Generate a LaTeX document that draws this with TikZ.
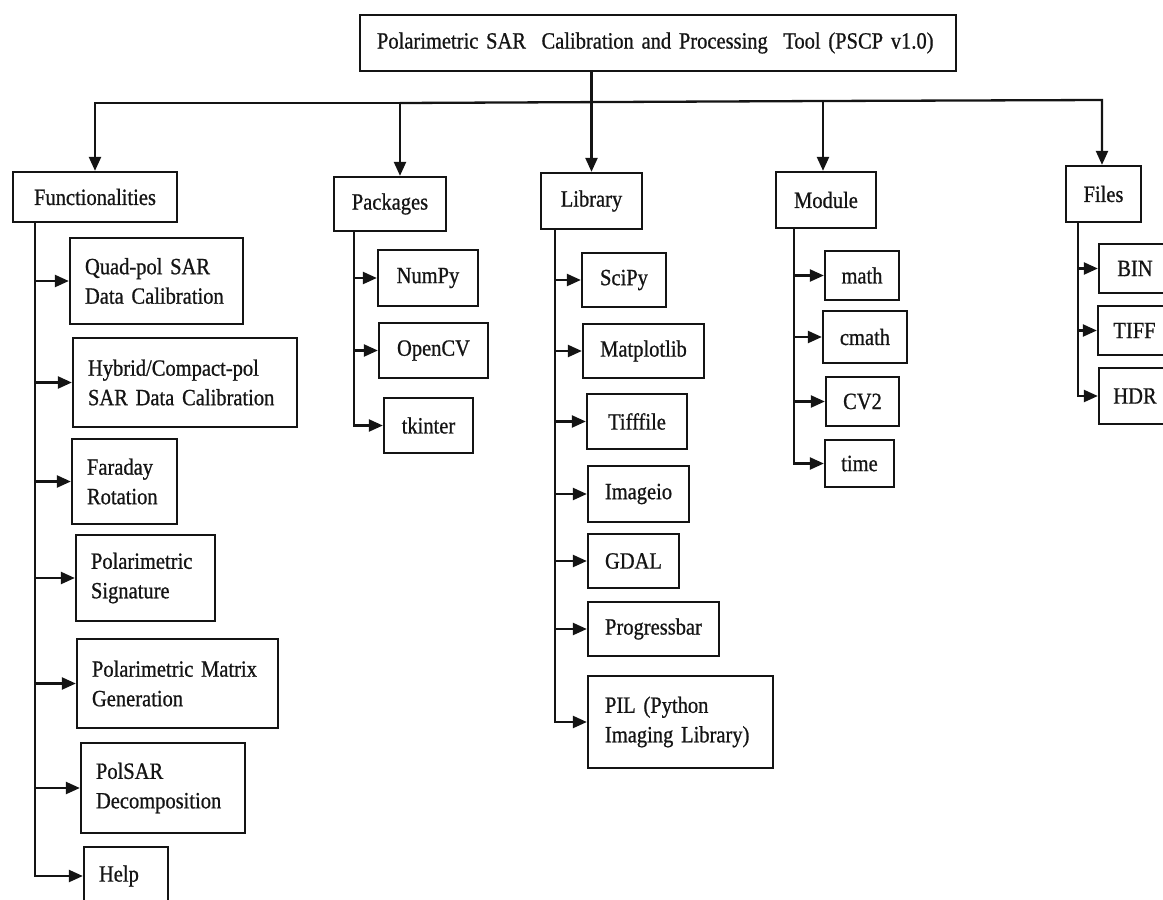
\documentclass[tikz,border=0pt]{standalone}
\usepackage{fontspec}
\setmainfont{Liberation Serif}[FakeStretch=0.88,FakeBold=0.8,WordSpace=0.5]
\usetikzlibrary{arrows.meta}
\definecolor{ink}{RGB}{20,20,20}
\begin{document}
\begin{tikzpicture}[x=1pt,y=-1pt,
  box/.style={draw=ink, line width=2.3pt, inner sep=0pt, text=ink, font=\fontsize{23.3pt}{29.5pt}\selectfont, align=center},
  lbox/.style={box, align=left, inner xsep=15pt},
  arr/.style={draw=ink, line width=2.3pt, -{Triangle[length=14pt,width=12pt]}}]
\useasboundingbox (0,0) rectangle (1163,900);
\clip (0,0) rectangle (1163,900);
% top
\node[lbox, inner xsep=17pt, text width=562pt, minimum height=56pt] (top) at (658,43) {Polarimetric SAR\ \ Calibration and Processing\ \ Tool (PSCP v1.0)};
% categories
\node[box, minimum width=164pt, minimum height=50pt] (func) at (95,197) {Functionalities};
\node[box, minimum width=112pt, minimum height=54pt] (pkg) at (390,204) {Packages};
\node[box, minimum width=101pt, minimum height=56pt] (lib) at (591.5,201) {Library};
\node[box, minimum width=100pt, minimum height=56pt] (mod) at (826,200) {Module};
\node[box, minimum width=75pt, minimum height=56pt] (files) at (1103.5,194) {Files};
% functionalities
\node[lbox, text width=143pt, minimum height=86pt] (q) at (156.5,281) {Quad-pol SAR\\Data Calibration};
\node[lbox, text width=194pt, minimum height=89pt] (h) at (185,382.5) {Hybrid/Compact-pol\\SAR Data Calibration};
\node[lbox, text width=75pt, minimum height=85pt] (f) at (124.5,481.5) {Faraday\\Rotation};
\node[lbox, text width=109pt, minimum height=86pt] (s) at (145.5,578) {Polarimetric\\Signature};
\node[lbox, text width=171pt, minimum height=89pt] (m) at (177.5,683.5) {Polarimetric Matrix\\Generation};
\node[lbox, text width=134pt, minimum height=90pt] (d) at (163,788) {PolSAR\\Decomposition};
\node[lbox, text width=54pt, minimum height=58pt] (help) at (126,876) {Help};
% packages
\node[box, minimum width=100pt, minimum height=56pt] (numpy) at (428,278) {NumPy};
\node[box, minimum width=109pt, minimum height=55pt] (opencv) at (433.5,350.5) {OpenCV};
\node[box, minimum width=89pt, minimum height=55pt] (tkinter) at (428.5,425.5) {tkinter};
% library
\node[box, minimum width=84pt, minimum height=54pt] (scipy) at (624,280) {SciPy};
\node[box, minimum width=121pt, minimum height=54pt] (matplotlib) at (643.5,351) {Matplotlib};
\node[box, minimum width=100pt, minimum height=55pt] (tifffile) at (637,421.5) {Tifffile};
\node[box, minimum width=101pt, minimum height=56pt] (imageio) at (638.5,494) {Imageio};
\node[box, minimum width=91pt, minimum height=54pt] (gdal) at (633.5,561) {GDAL};
\node[box, minimum width=131pt, minimum height=54pt] (progressbar) at (653.5,629) {Progressbar};
\node[lbox, inner xsep=17pt, text width=151pt, minimum height=92pt] (pil) at (680.5,722) {PIL (Python\\Imaging Library)};
% module
\node[box, minimum width=74pt, minimum height=49pt] (math) at (862,275.5) {math};
\node[box, minimum width=84pt, minimum height=52pt] (cmath) at (865,337) {cmath};
\node[box, minimum width=73pt, minimum height=49pt] (cv2) at (862.5,401.5) {CV2};
\node[box, minimum width=69pt, minimum height=47pt] (time) at (859.5,463.5) {time};
% files
\node[box, minimum width=72pt, minimum height=49pt] (bin) at (1135,268.5) {BIN};
\node[box, minimum width=73pt, minimum height=49pt] (tiff) at (1134.5,330.5) {TIFF};
\node[box, minimum width=72pt, minimum height=56pt] (hdr) at (1135,396) {HDR};
% bus
\coordinate (bF) at (95,103);
\coordinate (bP) at (400,103);
\coordinate (bM) at (823,101);
\coordinate (bE) at (1102,100);
\draw[arr] (bP) -- (bF) -- (func.north);
\draw[arr] (bP) -- (bM) -- (bE) -- (bE |- files.north);
\draw[arr] (bP) -- (bP |- pkg.north);
\draw[arr] (bM) -- (bM |- mod.north);
\draw[arr] (top.south -| lib.north) -- (lib.north);
% trunks
\coordinate (tF) at (35,0);
\coordinate (tP) at (354,0);
\coordinate (tL) at (555,0);
\coordinate (tM) at (794,0);
\coordinate (tE) at (1078,0);
\draw[arr] (func.south -| tF) -- (tF |- help.west) -- (help.west);
\foreach \n in {q,h,f,s,m,d} \draw[arr] (tF |- \n.west) -- (\n.west);
\draw[arr] (pkg.south -| tP) -- (tP |- tkinter.west) -- (tkinter.west);
\foreach \n in {numpy,opencv} \draw[arr] (tP |- \n.west) -- (\n.west);
\draw[arr] (lib.south -| tL) -- (tL |- pil.west) -- (pil.west);
\foreach \n in {scipy,matplotlib,tifffile,imageio,gdal,progressbar} \draw[arr] (tL |- \n.west) -- (\n.west);
\draw[arr] (mod.south -| tM) -- (tM |- time.west) -- (time.west);
\foreach \n in {math,cmath,cv2} \draw[arr] (tM |- \n.west) -- (\n.west);
\draw[arr] (files.south -| tE) -- (tE |- hdr.west) -- (hdr.west);
\foreach \n in {bin,tiff} \draw[arr] (tE |- \n.west) -- (\n.west);
\end{tikzpicture}
\end{document}
